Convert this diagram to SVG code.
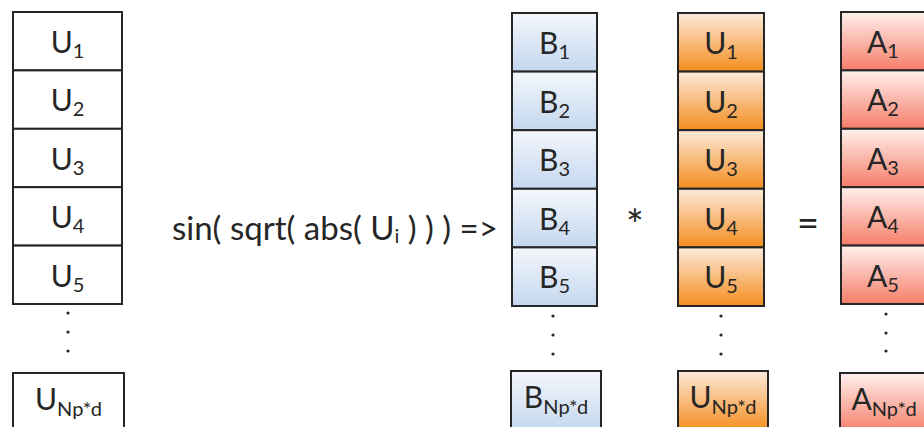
<svg xmlns="http://www.w3.org/2000/svg" width="924" height="427" viewBox="0 0 924 427">
<defs>
<linearGradient id="gB" x1="0" y1="0" x2="0" y2="1"><stop offset="0" stop-color="#f4f7fc"/><stop offset="1" stop-color="#c4d7ef"/></linearGradient>
<linearGradient id="gU" x1="0" y1="0" x2="0" y2="1"><stop offset="0" stop-color="#fdeadb"/><stop offset="1" stop-color="#f48d1e"/></linearGradient>
<linearGradient id="gA" x1="0" y1="0" x2="0" y2="1"><stop offset="0" stop-color="#fff0ed"/><stop offset="1" stop-color="#f57d68"/></linearGradient>
<style>
.w{fill:#fff;stroke:#262626;stroke-width:2}
.b{fill:url(#gB);stroke:#262626;stroke-width:2}
.u{fill:url(#gU);stroke:#262626;stroke-width:2}
.a{fill:url(#gA);stroke:#262626;stroke-width:2}
text{font-family:Lato,"Liberation Sans",sans-serif;fill:#262626;font-size:30px}
.c{text-anchor:middle}
.s{font-size:20px}
.dot{fill:#262626}
</style>
</defs>
<g id="colL">
<g id="L1"><rect class="w" x="13" y="12" width="109" height="58.4"/><text class="c" x="67.5" y="53">U<tspan class="s" dy="5">1</tspan></text></g>
<g id="L2"><rect class="w" x="13" y="70.4" width="109" height="58.4"/><text class="c" x="67.5" y="111.4">U<tspan class="s" dy="5">2</tspan></text></g>
<g id="L3"><rect class="w" x="13" y="128.8" width="109" height="58.4"/><text class="c" x="67.5" y="169.8">U<tspan class="s" dy="5">3</tspan></text></g>
<g id="L4"><rect class="w" x="13" y="187.2" width="109" height="58.4"/><text class="c" x="67.5" y="228.2">U<tspan class="s" dy="5">4</tspan></text></g>
<g id="L5"><rect class="w" x="13" y="245.6" width="109" height="58.4"/><text class="c" x="67.5" y="286.6">U<tspan class="s" dy="5">5</tspan></text></g>
<g id="Ldots"><circle class="dot" cx="68" cy="313" r="1.6"/><circle class="dot" cx="68" cy="332" r="1.6"/><circle class="dot" cx="68" cy="351" r="1.6"/></g>
<g id="LN"><rect class="w" x="13" y="373" width="111" height="60"/><text class="c" x="68.5" y="410">U<tspan class="s" dy="6">Np*d</tspan></text></g>
</g>
<g id="formula"><text x="172" y="240" style="font-size:33px">sin( sqrt( abs( U<tspan class="s" dy="3">i</tspan><tspan dy="-3"> ) ) ) =&gt;</tspan></text></g>
<g id="colB">
<g id="B1"><rect class="b" x="512" y="13" width="85" height="58.6"/><text class="c" x="554.5" y="54">B<tspan class="s" dy="5">1</tspan></text></g>
<g id="B2"><rect class="b" x="512" y="71.6" width="85" height="58.6"/><text class="c" x="554.5" y="112.6">B<tspan class="s" dy="5">2</tspan></text></g>
<g id="B3"><rect class="b" x="512" y="130.2" width="85" height="58.6"/><text class="c" x="554.5" y="171.2">B<tspan class="s" dy="5">3</tspan></text></g>
<g id="B4"><rect class="b" x="512" y="188.8" width="85" height="58.6"/><text class="c" x="554.5" y="229.8">B<tspan class="s" dy="5">4</tspan></text></g>
<g id="B5"><rect class="b" x="512" y="247.4" width="85" height="58.6"/><text class="c" x="554.5" y="288.4">B<tspan class="s" dy="5">5</tspan></text></g>
<g id="Bdots"><circle class="dot" cx="553" cy="316" r="1.6"/><circle class="dot" cx="553" cy="335" r="1.6"/><circle class="dot" cx="553" cy="354" r="1.6"/></g>
<g id="BN"><rect class="b" x="511" y="371" width="90" height="60"/><text class="c" x="556" y="408">B<tspan class="s" dy="6">Np*d</tspan></text></g>
</g>
<g id="times"><text class="c" x="635" y="240" style="font-size:42px">*</text></g>
<g id="colU">
<g id="U1"><rect class="u" x="678" y="13" width="86" height="58.6"/><text class="c" x="721" y="54">U<tspan class="s" dy="5">1</tspan></text></g>
<g id="U2"><rect class="u" x="678" y="71.6" width="86" height="58.6"/><text class="c" x="721" y="112.6">U<tspan class="s" dy="5">2</tspan></text></g>
<g id="U3"><rect class="u" x="678" y="130.2" width="86" height="58.6"/><text class="c" x="721" y="171.2">U<tspan class="s" dy="5">3</tspan></text></g>
<g id="U4"><rect class="u" x="678" y="188.8" width="86" height="58.6"/><text class="c" x="721" y="229.8">U<tspan class="s" dy="5">4</tspan></text></g>
<g id="U5"><rect class="u" x="678" y="247.4" width="86" height="58.6"/><text class="c" x="721" y="288.4">U<tspan class="s" dy="5">5</tspan></text></g>
<g id="Udots"><circle class="dot" cx="721" cy="316" r="1.6"/><circle class="dot" cx="721" cy="335" r="1.6"/><circle class="dot" cx="721" cy="354" r="1.6"/></g>
<g id="UN"><rect class="u" x="678" y="371" width="90" height="60"/><text class="c" x="723" y="408">U<tspan class="s" dy="6">Np*d</tspan></text></g>
</g>
<g id="equals"><text class="c" x="808" y="237" style="font-size:38px">=</text></g>
<g id="colA">
<g id="A1"><rect class="a" x="841" y="12" width="86" height="58.4"/><text class="c" x="883" y="53">A<tspan class="s" dy="5">1</tspan></text></g>
<g id="A2"><rect class="a" x="841" y="70.4" width="86" height="58.4"/><text class="c" x="883" y="111.4">A<tspan class="s" dy="5">2</tspan></text></g>
<g id="A3"><rect class="a" x="841" y="128.8" width="86" height="58.4"/><text class="c" x="883" y="169.8">A<tspan class="s" dy="5">3</tspan></text></g>
<g id="A4"><rect class="a" x="841" y="187.2" width="86" height="58.4"/><text class="c" x="883" y="228.2">A<tspan class="s" dy="5">4</tspan></text></g>
<g id="A5"><rect class="a" x="841" y="245.6" width="86" height="58.4"/><text class="c" x="883" y="286.6">A<tspan class="s" dy="5">5</tspan></text></g>
<g id="Adots"><circle class="dot" cx="886" cy="314" r="1.6"/><circle class="dot" cx="886" cy="333" r="1.6"/><circle class="dot" cx="886" cy="351" r="1.6"/></g>
<g id="AN"><rect class="a" x="840" y="373" width="90" height="60"/><text class="c" x="884" y="410">A<tspan class="s" dy="6">Np*d</tspan></text></g>
</g>
</svg>
